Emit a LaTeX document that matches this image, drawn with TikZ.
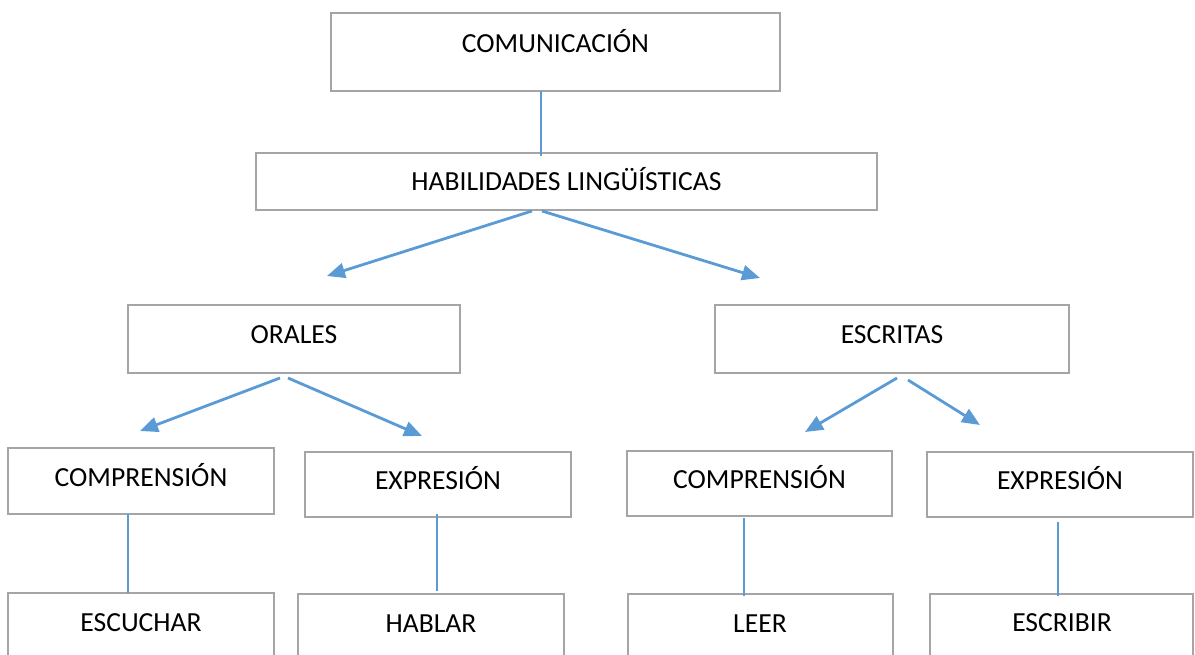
\documentclass[tikz,border=0pt]{standalone}
\usepackage{fontspec}
\setmainfont{Carlito}
\usetikzlibrary{arrows.meta}
\definecolor{boxgray}{HTML}{A5A5A5}
\definecolor{arrblue}{HTML}{5B9BD5}
\tikzset{
  box/.style={draw=boxgray, line width=2.7pt, inner sep=0pt, outer sep=0pt, anchor=north west},
  lbl/.style={anchor=base, inner sep=0pt, outer sep=0pt, font=\fontsize{27.6}{33}\selectfont},
  arr/.style={draw=arrblue, line width=2.8pt, -{Triangle[length=18pt,width=15pt]}},
  thinline/.style={draw=arrblue, line width=1.1pt}
}
\begin{document}
\begin{tikzpicture}[x=1pt,y=-1pt]
\useasboundingbox (0,0) rectangle (1195,655);
\clip (0,0) rectangle (1195,655);
% boxes
\node[box, minimum width=449pt, minimum height=78pt] (com) at (331,13) {};
\node[box, minimum width=621pt, minimum height=57pt] (hab) at (256,153) {};
\node[box, minimum width=332pt, minimum height=68pt] (ora) at (128,305) {};
\node[box, minimum width=354pt, minimum height=68pt] (esc) at (715,305) {};
\node[box, minimum width=266pt, minimum height=66pt] (compA) at (8,448) {};
\node[box, minimum width=266pt, minimum height=65pt] (expA) at (305,452) {};
\node[box, minimum width=265pt, minimum height=65pt] (compB) at (627,451) {};
\node[box, minimum width=266pt, minimum height=65pt] (expB) at (927,452) {};
\node[box, minimum width=266pt, minimum height=90pt] (escu) at (8,593) {};
\node[box, minimum width=266pt, minimum height=90pt] (habl) at (298,594) {};
\node[box, minimum width=265pt, minimum height=90pt] (leer) at (628,594) {};
\node[box, minimum width=263pt, minimum height=90pt] (escr) at (930,594) {};
% labels
\node[lbl] (comT) at (555.5,53) {COMUNICACIÓN};
\node[lbl] (habT) at (566.5,191) {HABILIDADES LINGÜÍSTICAS};
\node[lbl] (oraT) at (294,343) {ORALES};
\node[lbl] (escT) at (892,343) {ESCRITAS};
\node[lbl] (compAT) at (141,486) {COMPRENSIÓN};
\node[lbl] (expAT) at (438,489) {EXPRESIÓN};
\node[lbl] (compBT) at (759.5,488) {COMPRENSIÓN};
\node[lbl] (expBT) at (1060,489) {EXPRESIÓN};
\node[lbl] (escuT) at (141,631) {ESCUCHAR};
\node[lbl] (hablT) at (431,632) {HABLAR};
\node[lbl] (leerT) at (760,632) {LEER};
\node[lbl] (escrT) at (1062,631) {ESCRIBIR};
% arrow tips
\coordinate (tOra) at (327,276);
\coordinate (tEsc) at (760,278);
\coordinate (tCompA) at (140,431);
\coordinate (tExpA) at (422,436);
\coordinate (tCompB) at (805,432);
\coordinate (tExpB) at (980,425);
% thin connectors
\draw[thinline] ([xshift=210pt]com.south west) -- ([xshift=285pt,yshift=-3pt]hab.north west);
\draw[thinline] ([xshift=120pt]compA.south west) -- ([xshift=120pt]escu.north west);
\draw[thinline] ([xshift=132pt,yshift=3pt]expA.south west) -- ([xshift=139pt,yshift=3pt]habl.north west);
\draw[thinline] ([xshift=117pt,yshift=-2pt]compB.south west) -- ([xshift=116pt,yshift=-2pt]leer.north west);
\draw[thinline] ([xshift=131pt,yshift=-5pt]expB.south west) -- ([xshift=128pt,yshift=-2pt]escr.north west);
% arrows
\draw[arr] ([xshift=276pt,yshift=-1pt]hab.south west) -- (tOra);
\draw[arr] ([xshift=286pt,yshift=-1pt]hab.south west) -- (tEsc);
\draw[arr] ([xshift=152pt,yshift=-5pt]ora.south west) -- (tCompA);
\draw[arr] ([xshift=160pt,yshift=-5pt]ora.south west) -- (tExpA);
\draw[arr] ([xshift=182pt,yshift=-5pt]esc.south west) -- (tCompB);
\draw[arr] ([xshift=193pt,yshift=-7pt]esc.south west) -- (tExpB);
\end{tikzpicture}
\end{document}
